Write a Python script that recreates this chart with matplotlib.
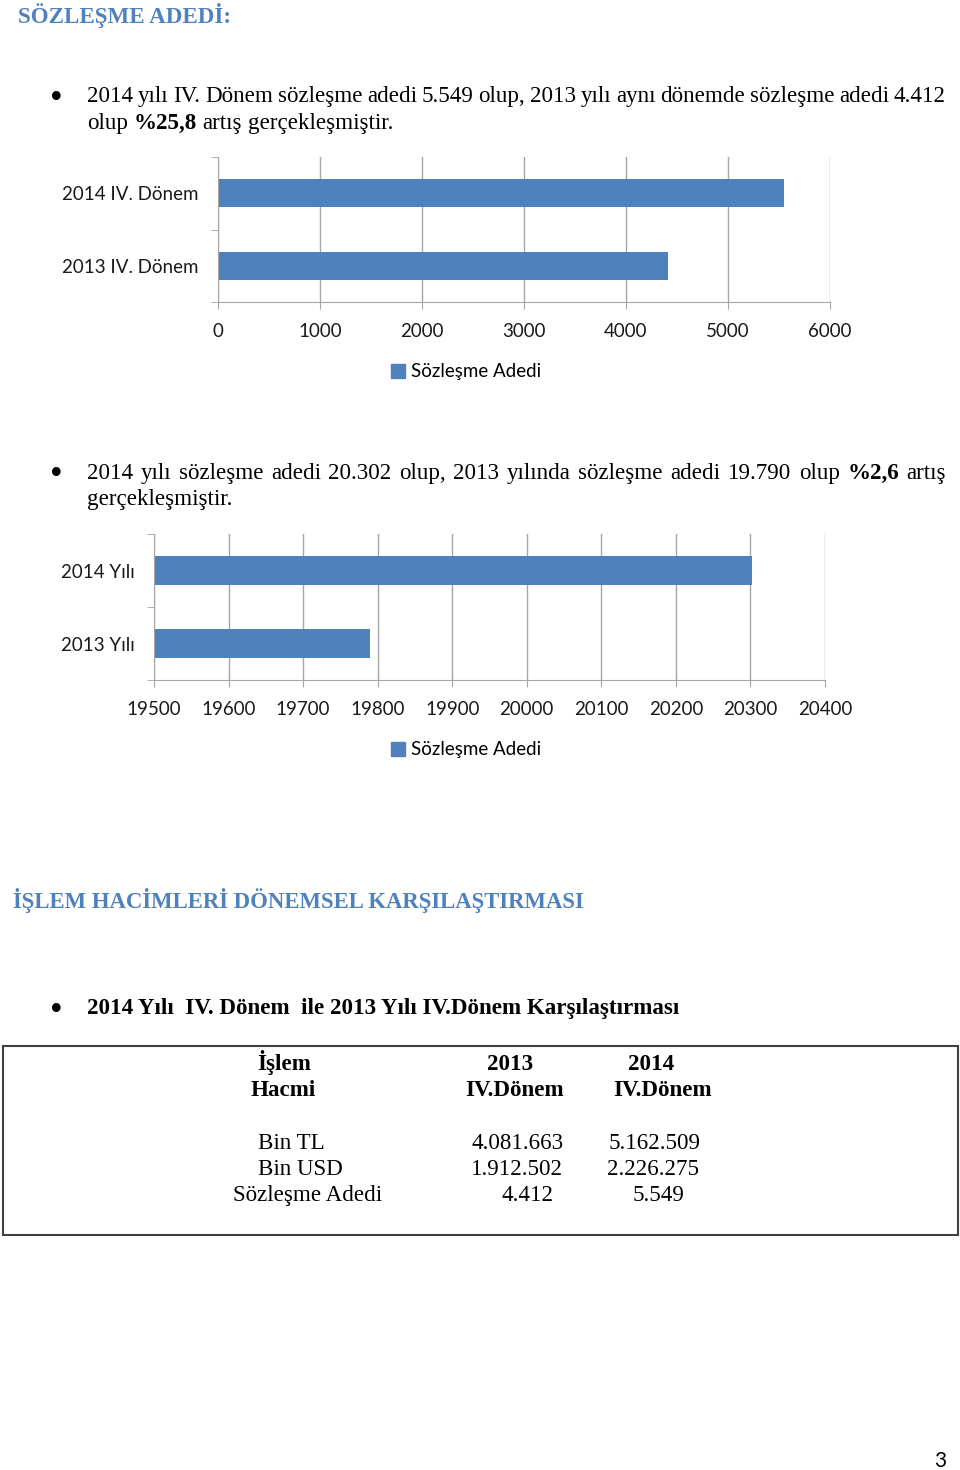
import matplotlib
matplotlib.use("Agg")
import matplotlib.pyplot as plt
from matplotlib.patches import Rectangle, Patch

W, H = 960, 1470

# chart data
periods = ["2013 IV. Dönem", "2014 IV. Dönem"]
period_counts = [4412, 5549]
years = ["2013 Yılı", "2014 Yılı"]
year_counts = [19790, 20302]
series_name = "Sözleşme Adedi"

# table data
table_rows = ["Bin TL", "Bin USD", "Sözleşme Adedi"]
vol_2013 = ["4.081.663", "1.912.502", "4.412"]
vol_2014 = ["5.162.509", "2.226.275", "5.549"]

BLUE = "#4F81BD"
GRID = "#A6A6A6"
SERIF = "Liberation Serif"
SANS = "Lato"
BODY = 16.6

fig = plt.figure(figsize=(W / 100, H / 100), dpi=100)
renderer = fig.canvas.get_renderer()


def fx(x):
    return x / W


def fy(y):
    return 1 - y / H


def width(s, size, weight="normal"):
    t = fig.text(0, 0, s, fontsize=size, fontweight=weight, family=SERIF)
    w = t.get_window_extent(renderer).width
    t.remove()
    return w


def line(x, y, words, size=BODY, right=None, color="black"):
    """words: list of (text, weight); justified to `right` if given."""
    widths = [width(s, size, w) for s, w in words]
    if right is None:
        gap = width("a a", size) - width("aa", size)
    else:
        gap = (right - x - sum(widths)) / (len(words) - 1)
    for (s, w), wd in zip(words, widths):
        fig.text(fx(x), fy(y), s, fontsize=size, fontweight=w, family=SERIF,
                 va="baseline", color=color)
        x += wd + gap


def bullet(y):
    fig.text(fx(56), fy(y), "•", fontsize=26, family=SERIF, ha="center",
             va="center")


def words(text, bold=()):
    return [(s, "bold" if s in bold else "normal") for s in text.split()]


def bar_chart(rect, labels, values, xmin, xmax, step, legend_xy):
    ax = fig.add_axes(rect)
    ax.set_axisbelow(True)
    ax.barh(range(len(values)), values, height=0.39, color=BLUE, zorder=2)
    ax.set_xlim(xmin, xmax)
    ax.set_ylim(-0.5, len(values) - 0.5)
    ax.set_xticks(range(xmin, xmax + 1, step))
    ax.set_yticks(range(len(labels)))
    ax.set_yticklabels(labels)
    ax.set_yticks([i - 0.5 for i in range(len(labels) + 1)], minor=True)
    ax.grid(axis="x", color=GRID, lw=1)
    for sp in ("top", "right"):
        ax.spines[sp].set_visible(False)
    for sp in ("left", "bottom"):
        ax.spines[sp].set_color(GRID)
    ax.tick_params(axis="y", which="major", length=0, pad=14)
    ax.tick_params(axis="y", which="minor", length=5, color=GRID)
    ax.tick_params(axis="x", length=5, color=GRID, pad=10)
    for lab in ax.get_xticklabels() + ax.get_yticklabels():
        lab.set_fontfamily(SANS)
        lab.set_fontsize(13.5)
        lab.set_color("#1a1a1a")
    ax.legend(handles=[Patch(color=BLUE, label=series_name)], loc="center",
              bbox_to_anchor=(fx(legend_xy[0]), fy(legend_xy[1])),
              bbox_transform=fig.transFigure, frameon=False,
              prop={"family": SANS, "size": 13.5}, handlelength=0.75,
              handleheight=0.75, handletextpad=0.3)
    return ax


# --- section 1 ---
fig.text(fx(18), fy(23), "SÖZLEŞME ADEDİ:", fontsize=16.6, fontweight="bold",
         family=SERIF, color=BLUE, va="baseline")

bullet(99)
line(87, 102, words("2014 yılı IV. Dönem sözleşme adedi 5.549 olup, 2013 yılı "
                    "aynı dönemde sözleşme adedi 4.412"), right=946)
line(87, 129, words("olup %25,8 artış gerçekleşmiştir.", bold=("%25,8",)))

bar_chart([fx(218), fy(302), fx(830) - fx(218), fy(157) - fy(302)],
          periods, period_counts, 0, 6000, 1000, (466, 372))

bullet(476)
line(87, 479, words("2014 yılı sözleşme adedi 20.302 olup, 2013 yılında "
                    "sözleşme adedi 19.790 olup %2,6 artış", bold=("%2,6",)),
     right=946)
line(87, 505, words("gerçekleşmiştir."))

bar_chart([fx(154), fy(680), fx(825) - fx(154), fy(534) - fy(680)],
          years, year_counts, 19500, 20400, 100, (466, 750))

# --- section 2 ---
fig.text(fx(13), fy(908), "İŞLEM HACİMLERİ DÖNEMSEL KARŞILAŞTIRMASI",
         fontsize=16.4, fontweight="bold", family=SERIF, color=BLUE,
         va="baseline")

bullet(1011)
fig.text(fx(87), fy(1014),
         "2014 Yılı  IV. Dönem  ile 2013 Yılı IV.Dönem Karşılaştırması",
         fontsize=BODY, fontweight="bold", family=SERIF, va="baseline")

fig.patches.append(Rectangle((fx(3), fy(1235)), fx(958) - fx(3),
                             fy(1046) - fy(1235), transform=fig.transFigure,
                             fill=False, edgecolor="#404040", lw=1.5))

# column headers: (x center, y baseline, text)
headers = [(284, 1070, "İşlem"), (283, 1096, "Hacmi"),
           (510, 1070, "2013"), (515, 1096, "IV.Dönem"),
           (651, 1070, "2014"), (662, 1096, "IV.Dönem")]
for x, y, s in headers:
    fig.text(fx(x), fy(y), s, fontsize=BODY, fontweight="bold", family=SERIF,
             ha="center", va="baseline")

row_y = [1149, 1175, 1201]
label_x = [291, 300, 308]
col1_x = [518, 517, 528]
col2_x = [655, 653, 659]
for i, name in enumerate(table_rows):
    y = row_y[i]
    fig.text(fx(label_x[i]), fy(y), name, fontsize=BODY, family=SERIF,
             ha="center", va="baseline")
    fig.text(fx(col1_x[i]), fy(y), vol_2013[i], fontsize=BODY, family=SERIF,
             ha="center", va="baseline")
    fig.text(fx(col2_x[i]), fy(y), vol_2014[i], fontsize=BODY, family=SERIF,
             ha="center", va="baseline")

fig.text(fx(940), fy(1467), "3", fontsize=15, family=SANS, ha="center",
         va="baseline")

fig.savefig("out.png", dpi=100)
